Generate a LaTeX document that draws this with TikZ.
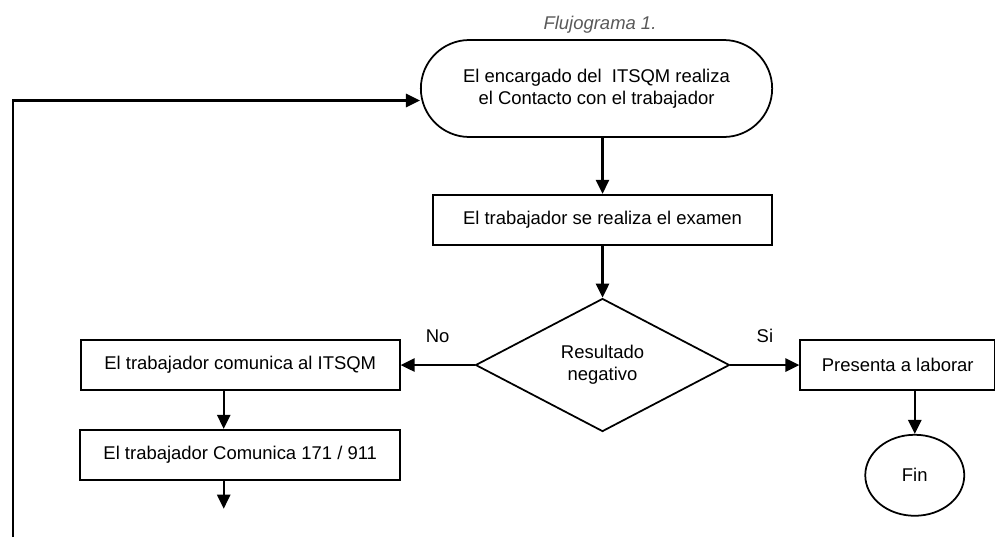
\documentclass[tikz,border=0pt]{standalone}
\usepackage{fontspec}
\setmainfont{Liberation Sans}
\usetikzlibrary{arrows.meta,positioning,shapes.geometric,shapes.misc}

\begin{document}
\begin{tikzpicture}[>={Triangle[length=8pt,width=7.5pt]},line width=1pt,node distance=10mm,
                font=\fontsize{10.5}{12.5}\selectfont,
                proc/.style={draw,rectangle,minimum height=1cm,inner sep=0pt},
                flow/.style={->,line width=1.4pt}]

                \useasboundingbox (0,0) rectangle (19.9,-10.74);

                \node[font=\fontsize{10.5}{12.5}\selectfont\itshape,text=black!65] (titulo) at (12.0,-0.5) {Flujograma 1.};

                \node[draw,rounded rectangle,minimum width=7.26cm,minimum height=1.94cm,align=center] (contacto) at (11.93,-1.77) {El encargado del\ \ ITSQM realiza\\el Contacto con el trabajador};

                \node[proc,minimum width=6.78cm] (examen) [below=1.12cm of contacto,xshift=0.12cm] {El trabajador se realiza el examen};

                \node[draw,diamond,aspect=1.9,minimum width=5.08cm,minimum height=2.66cm,inner sep=0pt,align=center] (dia) [below=1.04cm of examen] {Resultado\\negativo};

                \node[proc,minimum width=6.38cm] (com) [left=1.48cm of dia] {El trabajador comunica al ITSQM};

                \node[proc,minimum width=6.4cm] (num) [below=0.76cm of com] {El trabajador Comunica 171 / 911};

                \node[proc,minimum width=3.9cm] (pres) [right=1.38cm of dia] {Presenta a laborar};

                \node[draw,ellipse,minimum width=1.98cm,minimum height=1.62cm,inner sep=0pt] (fin) [below=0.86cm of pres,xshift=0.34cm] {Fin};

                \coordinate (sigue) at ([xshift=-0.33cm,yshift=-0.56cm]num.south);
                \coordinate (retorno) at (0.26,-10.74);

                \draw[flow] (contacto.south -| examen.north) -- (examen);
                \draw[flow] (examen.south) -- (dia.north);

                \foreach \to/\lbl in {com/No, pres/Si}
                    {
                    \path[flow] (dia) edge node[above=0.3cm] {\lbl} (\to);
                    }

                \draw[flow] ([xshift=-0.33cm]com.south) -- ([xshift=-0.33cm]num.north);
                \draw[flow] ([xshift=-0.33cm]num.south) -- (sigue);
                \draw[flow] (pres.south -| fin.north) -- (fin);

                \draw[flow] (retorno) |- ([yshift=-0.24cm]contacto.west);

            \end{tikzpicture}
\end{document}
